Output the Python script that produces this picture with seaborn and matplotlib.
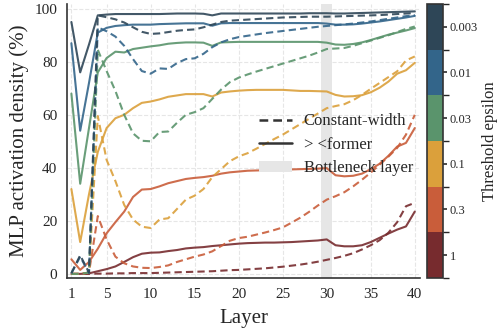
import numpy as np
import pandas as pd
import matplotlib
matplotlib.use("Agg")
import matplotlib.pyplot as plt
import seaborn as sns
from matplotlib.colors import ListedColormap, BoundaryNorm
from matplotlib.lines import Line2D
from matplotlib.patches import Patch

# thresholds (bottom to top in the colorbar) and their colours
eps_labels = ["1", "0.3", "0.1", "0.03", "0.01", "0.003"]
eps_colors = ["#772b2e", "#c95d3a", "#dba03b", "#5a946c", "#33658a", "#2e4657"]

layers = list(range(1, 41))

# solid lines: "> <former"
former_1 = [0, 0, 0.2, 1, 1.8, 2.8, 4.5, 6.3, 7.6, 8, 8.1, 8.6, 9, 9.6, 9.9, 10.1, 10.5, 10.8, 11.1, 11.4,
            11.6, 11.7, 11.8, 11.8, 11.9, 12, 12.2, 12.4, 12.6, 13, 10.8, 10.4, 10.4, 10.8, 12, 13.6, 15.2, 16.7, 17.9, 23.5]
former_03 = [5.5, 1.5, 4.5, 9.5, 15.3, 19.5, 23.5, 29, 31.8, 32, 33, 34.2, 35, 35.8, 36.2, 36.5, 37, 37.8, 38.3, 38.6,
             38.9, 39, 39.1, 39.2, 39.3, 39.4, 39.5, 39.6, 39.7, 39.9, 37.2, 36.8, 37, 37.8, 39.5, 41.5, 44.5, 48, 49.4, 55]
former_01 = [32, 12, 30, 46, 55, 58.7, 60, 62.5, 64.5, 65, 65.8, 66.8, 67.3, 67.8, 67.8, 67.8, 66.9, 68.4, 68.8, 69.1,
             69.3, 69.4, 69.4, 69.4, 69.4, 69.2, 69, 69, 68.9, 68.8, 67.5, 66.9, 67, 67.4, 68.5, 70.2, 72.5, 75.5, 76.8, 79.6]
former_003 = [68, 34, 55, 76, 81.4, 83.8, 83.5, 84.8, 85.3, 85.8, 86.2, 86.8, 87.1, 87.3, 87.3, 87.2, 86, 87.3, 87.4, 87.5,
              87.5, 87.5, 87.5, 87.5, 87.5, 87.5, 87.5, 87.5, 87.5, 87.2, 86.5, 86.4, 86.7, 87.3, 88.2, 89.2, 90.2, 91, 91.8, 92.7]
former_001 = [87, 54, 72, 91, 92.8, 93.5, 93.8, 94, 94, 94, 94.2, 94.3, 94.4, 94.5, 94.5, 94.5, 93.6, 94.5, 94.6, 94.6,
              94.6, 94.6, 94.6, 94.6, 94.6, 94.6, 94.6, 94.6, 94.6, 94.4, 94, 94, 94.1, 94.4, 94.8, 95.2, 95.7, 96.2, 96.7, 97.3]
former_0003 = [95, 76, 86.5, 97.5, 97.8, 98, 98, 98, 98, 98, 98, 98.1, 98.2, 98.2, 98.2, 98.1, 97.5, 98.2, 98.2, 98.2,
               98.2, 98.2, 98.2, 98.2, 98.2, 98.2, 98.2, 98.3, 98.3, 98.3, 98.2, 98.2, 98.3, 98.4, 98.5, 98.6, 98.7, 98.8, 98.9, 99]

# dashed lines: constant-width
const_1 = [0, 0, 0, 0.1, 0.1, 0.2, 0.2, 0.3, 0.3, 0.3, 0.4, 0.5, 0.6, 0.7, 0.8, 0.9, 1, 1.2, 1.4, 1.5,
           1.7, 1.9, 2.1, 2.4, 2.7, 3.1, 3.5, 4, 4.6, 5.3, 6, 6.8, 7.8, 9.2, 10.8, 12.7, 15.5, 19.5, 25.5, 26.8]
const_03 = [0, 0, 0.5, 21.8, 13, 6.5, 4, 2.8, 2.3, 2.2, 2.6, 3.2, 4.5, 5.5, 6.5, 7.3, 8.5, 10.5, 12.5, 13.5,
            14, 14.8, 15.6, 16.5, 17.5, 19.3, 21.2, 23.4, 25.8, 28, 29.3, 30.8, 33, 35.5, 38.2, 41.2, 44.2, 47.5, 52.5, 60]
const_01 = [0, 0, 0.5, 59.5, 43, 35, 26, 20.5, 17.8, 17.3, 20.5, 21, 24.5, 28, 29.5, 32, 36.5, 39.5, 42.5, 44.3,
            45.5, 47.2, 49, 50.8, 52.5, 54.5, 56.5, 58.5, 60.5, 62.5, 63.3, 64, 65.5, 67.5, 69.8, 72, 74.2, 76.4, 80.5, 82]
const_003 = [0, 0, 0.5, 84.5, 76.5, 69, 60, 53, 50.2, 50, 53.5, 53.7, 57, 60, 61, 62.5, 66, 69.5, 72.3, 74,
             75.2, 76.3, 77.3, 78.3, 79.3, 80.3, 81.3, 82.3, 83.5, 84.8, 85, 85.2, 86, 87, 88, 89, 90, 91.2, 92.4, 93.3]
const_001 = [0.2, 6.5, 0.3, 93, 91.5, 89.5, 86, 81, 76.5, 75.5, 77.5, 77.3, 79.5, 81, 81.3, 83, 85.5, 87.3, 88.5, 89.3,
             89.8, 90.3, 90.8, 91.2, 91.6, 92, 92.4, 92.8, 93.2, 93.5, 93.8, 94.1, 94.4, 94.8, 95.2, 95.7, 96.2, 96.7, 97.2, 97.6]
const_0003 = [0.3, 7, 0.5, 97.5, 96.8, 96, 94.8, 93, 91.3, 90.5, 90.7, 91.2, 91.7, 92, 92.2, 93, 94, 95, 95.5, 95.7,
              95.9, 96.1, 96.3, 96.5, 96.7, 96.8, 96.9, 97, 97, 97, 97.1, 97.2, 97.3, 97.4, 97.5, 97.6, 97.8, 98, 98.2, 98.4]

former_series = [former_1, former_03, former_01, former_003, former_001, former_0003]
const_series = [const_1, const_03, const_01, const_003, const_001, const_0003]

rows = []
for lab, f, c in zip(eps_labels, former_series, const_series):
    for l, v in zip(layers, f):
        rows.append((l, v, lab, "> <former"))
    for l, v in zip(layers, c):
        rows.append((l, v, lab, "Constant-width"))
df = pd.DataFrame(rows, columns=["layer", "density", "eps", "model"])

sns.set_theme(style="whitegrid")
plt.rcParams["font.family"] = ["Liberation Serif", "DejaVu Serif"]
plt.rcParams["grid.linestyle"] = "--"
plt.rcParams["grid.color"] = "#e6e6e6"
plt.rcParams["grid.linewidth"] = 0.8

fig = plt.figure(figsize=(4.98, 3.30), dpi=100)
ax = fig.add_axes([0.1345, 0.158, 0.709, 0.830])

ax.axvspan(29.4, 30.6, color="#e6e6e6", zorder=0.5, lw=0)

sns.lineplot(data=df, x="layer", y="density", hue="eps", style="model",
             palette=dict(zip(eps_labels, eps_colors)),
             dashes={"> <former": "", "Constant-width": (3.5, 2)},
             linewidth=1.5, alpha=0.9, legend=False, ax=ax)

ax.set_xlim(0.5, 40.6)
ax.set_ylim(-1.5, 101.8)
ax.set_xticks([1, 5, 10, 15, 20, 25, 30, 35, 40])
ax.set_yticks([0, 20, 40, 60, 80, 100])
ax.tick_params(axis="both", labelsize=11, length=4, width=1, color="#333333", pad=3)
ax.set_xlabel("Layer", fontsize=15, labelpad=6)
ax.set_ylabel("MLP activation density (%)", fontsize=15, labelpad=4)
for s in ["top", "right"]:
    ax.spines[s].set_visible(False)
for s in ["left", "bottom"]:
    ax.spines[s].set_color("#333333")
    ax.spines[s].set_linewidth(1.2)

handles = [Line2D([0], [0], color="#333333", lw=1.8, dashes=(3.5, 2)),
           Line2D([0], [0], color="#333333", lw=1.8),
           Patch(facecolor="#e6e6e6", edgecolor="none")]
ax.legend(handles, ["Constant-width", "> <former", "Bottleneck layer"],
          loc="upper left", bbox_to_anchor=(0.5, 0.655), frameon=False,
          fontsize=12, handlelength=2.0, handletextpad=0.7, labelspacing=0.45)

cmap = ListedColormap(eps_colors)
norm = BoundaryNorm(np.arange(7), 6)
cax = fig.add_axes([0.857, 0.158, 0.032, 0.830])
sm = plt.cm.ScalarMappable(cmap=cmap, norm=norm)
cb = fig.colorbar(sm, cax=cax, ticks=np.arange(6) + 0.5)
cb.ax.set_yticklabels(eps_labels)
cb.ax.tick_params(labelsize=9, length=3, color="#333333", pad=2)
cb.outline.set_edgecolor("#333333")
cb.outline.set_linewidth(1.2)
cb.set_label("Threshold epsilon", fontsize=12, labelpad=3)

fig.savefig("out.png", dpi=100)
